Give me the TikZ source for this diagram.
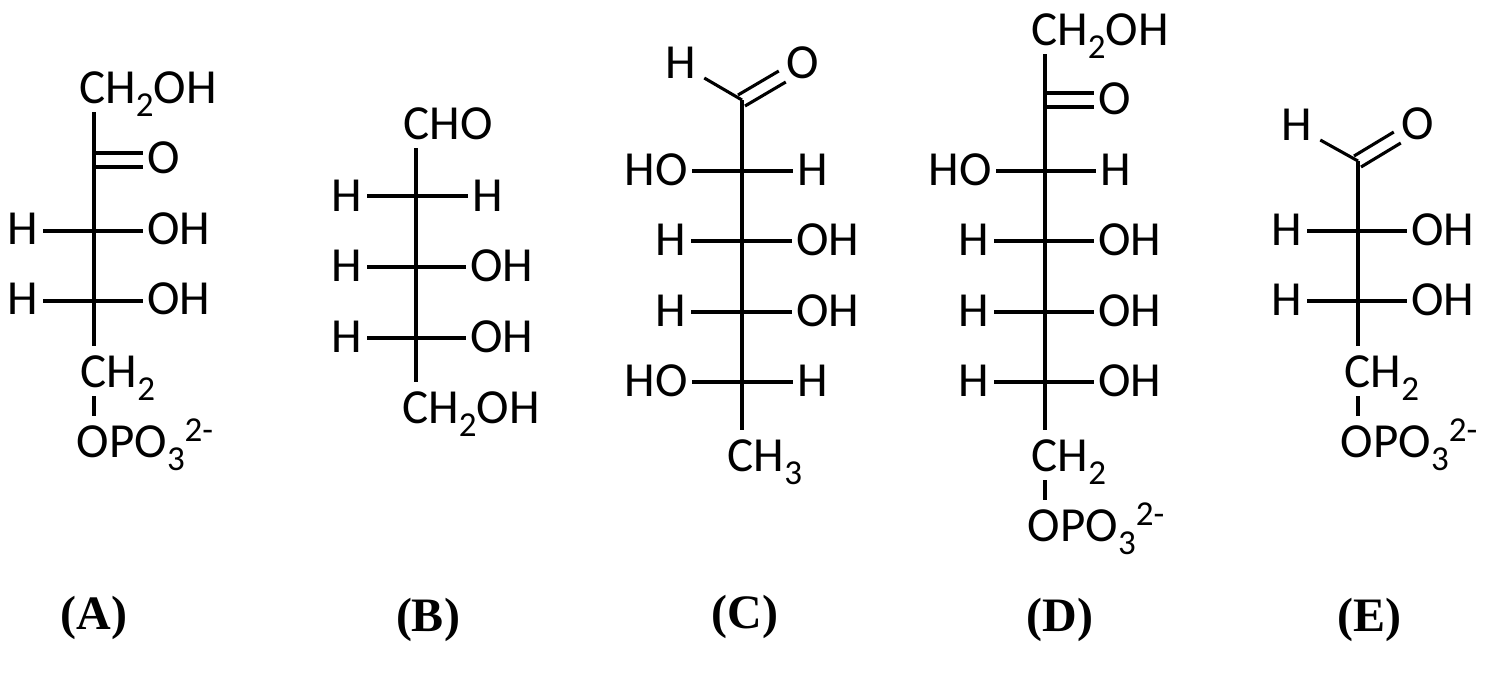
\documentclass[tikz,border=0pt]{standalone}
\usepackage{tikz}
\usepackage{fontspec}
\setmainfont{Carlito}
\newfontfamily\tagfont{Liberation Serif}
\newcommand{\lowidx}[1]{\raisebox{-6.5pt}{\fontsize{17.5}{18}\selectfont #1}}
\newcommand{\highidx}[1]{\raisebox{8pt}{\fontsize{17.5}{18}\selectfont #1}}
\tikzset{
	atom/.style={inner xsep=2.5pt, inner ysep=4.5pt, outer sep=0pt, text height=16pt, text depth=0pt, font=\fontsize{24.5}{26}\selectfont},
	tag/.style={inner sep=0pt, font=\tagfont\bfseries\fontsize{24}{25}\selectfont},
	bond/.style={line width=1.55pt, line cap=butt}
}
\begin{document}
\begin{tikzpicture}[x=0.5pt, y=-0.5pt]
				\useasboundingbox (0, 0) rectangle (1488, 677);
				\node[atom] (Atop)at(148, 87) {CH\lowidx{2}OH};
				\node[atom] (Ao)at(164, 157) {O};
				\node[atom] (Ah1)at(23, 228) {H};
				\node[atom] (Aoh1)at(179, 228) {OH};
				\node[atom] (Ah2)at(23, 298) {H};
				\node[atom] (Aoh2)at(179, 298) {OH};
				\node[atom] (Ach)at(118, 371) {CH\lowidx{2}};
				\node[atom] (Aopo)at(145, 441) {OPO\lowidx{3}\highidx{2-}};
				\coordinate (Ac1)at(94, 160);
				\coordinate (Ac2)at(94, 231);
				\coordinate (Ac3)at(94, 301);
				\draw[bond] (Ac1 |- Atop.south) -- (Ac1 |- Ach.north);
				\draw[bond] ([yshift=3.5pt]Ac1) -- ([yshift=3.5pt]Ac1 -| Ao.west);
				\draw[bond] ([yshift=-3.5pt]Ac1) -- ([yshift=-3.5pt]Ac1 -| Ao.west);
				\draw[bond] (Ah1.east |- Ac2) -- (Aoh1.west |- Ac2);
				\draw[bond] (Ah2.east |- Ac3) -- (Aoh2.west |- Ac3);
				\draw[bond] (Ac1 |- Ach.south) -- (Ac1 |- Aopo.north);
				\node[atom] (Btop)at(448, 123) {CHO};
				\node[atom] (Bh1)at(347, 195) {H};
				\node[atom] (Bh2)at(488, 195) {H};
				\node[atom] (Bh3)at(347, 265) {H};
				\node[atom] (Boh1)at(502, 265) {OH};
				\node[atom] (Bh4)at(347, 336) {H};
				\node[atom] (Boh2)at(502, 336) {OH};
				\node[atom] (Bend)at(471, 407) {CH\lowidx{2}OH};
				\coordinate (Bc1)at(416, 196);
				\coordinate (Bc2)at(416, 267);
				\coordinate (Bc3)at(416, 338);
				\draw[bond] (Bc1 |- Btop.south) -- (Bc1 |- Bend.north);
				\draw[bond] (Bh1.east |- Bc1) -- (Bh2.west |- Bc1);
				\draw[bond] (Bh3.east |- Bc2) -- (Boh1.west |- Bc2);
				\draw[bond] (Bh4.east |- Bc3) -- (Boh2.west |- Bc3);
				\node[atom] (Ch1)at(681, 62) {H};
				\node[atom] (Co)at(803, 62) {O};
				\node[atom] (Coh1)at(656, 169) {HO};
				\node[atom] (Ch2)at(813, 169) {H};
				\node[atom] (Ch3)at(671, 239) {H};
				\node[atom] (Coh2)at(828, 239) {OH};
				\node[atom] (Ch4)at(671, 310) {H};
				\node[atom] (Coh3)at(828, 310) {OH};
				\node[atom] (Coh4)at(656, 380) {HO};
				\node[atom] (Ch5)at(813, 380) {H};
				\node[atom] (Cend)at(765, 455) {CH\lowidx{3}};
				\coordinate (Cc0)at(742, 100);
				\coordinate (Cc1)at(742, 171);
				\coordinate (Cc2)at(742, 241);
				\coordinate (Cc3)at(742, 312);
				\coordinate (Cc4)at(742, 382);
				\draw[bond] (Cc0) -- (Cc0 |- Cend.north);
				\draw[bond] (Cc0) -- ([xshift=1.5pt, yshift=4.5pt]Ch1.south east);
				\draw[bond] ([xshift=-2pt, yshift=2.5pt]Cc0) -- ([xshift=-1.5pt, yshift=8pt]Co.south west);
				\draw[bond] ([xshift=1.5pt, yshift=-3pt]Cc0) -- ([xshift=2pt, yshift=2.5pt]Co.south west);
				\draw[bond] (Coh1.east |- Cc1) -- (Ch2.west |- Cc1);
				\draw[bond] (Ch3.east |- Cc2) -- (Coh2.west |- Cc2);
				\draw[bond] (Ch4.east |- Cc3) -- (Coh3.west |- Cc3);
				\draw[bond] (Coh4.east |- Cc4) -- (Ch5.west |- Cc4);
				\node[atom] (Dtop)at(1100, 29) {CH\lowidx{2}OH};
				\node[atom] (Do)at(1115, 98) {O};
				\node[atom] (Doh1)at(960, 169) {HO};
				\node[atom] (Dh1)at(1116, 169) {H};
				\node[atom] (Dh2)at(974, 239) {H};
				\node[atom] (Doh2)at(1130, 239) {OH};
				\node[atom] (Dh3)at(974, 310) {H};
				\node[atom] (Doh3)at(1130, 310) {OH};
				\node[atom] (Dh4)at(974, 380) {H};
				\node[atom] (Doh4)at(1130, 380) {OH};
				\node[atom] (Dch)at(1069, 455) {CH\lowidx{2}};
				\node[atom] (Dopo)at(1096, 525) {OPO\lowidx{3}\highidx{2-}};
				\coordinate (Dc0)at(1045, 100);
				\coordinate (Dc1)at(1045, 171);
				\coordinate (Dc2)at(1045, 241);
				\coordinate (Dc3)at(1045, 312);
				\coordinate (Dc4)at(1045, 382);
				\draw[bond] (Dc0 |- Dtop.south) -- (Dc0 |- Dch.north);
				\draw[bond] ([yshift=3.5pt]Dc0) -- ([yshift=3.5pt]Dc0 -| Do.west);
				\draw[bond] ([yshift=-3.5pt]Dc0) -- ([yshift=-3.5pt]Dc0 -| Do.west);
				\draw[bond] (Doh1.east |- Dc1) -- (Dh1.west |- Dc1);
				\draw[bond] (Dh2.east |- Dc2) -- (Doh2.west |- Dc2);
				\draw[bond] (Dh3.east |- Dc3) -- (Doh3.west |- Dc3);
				\draw[bond] (Dh4.east |- Dc4) -- (Doh4.west |- Dc4);
				\draw[bond] (Dc0 |- Dch.south) -- (Dc0 |- Dopo.north);
				\node[atom] (Eh1)at(1297, 124) {H};
				\node[atom] (Eo)at(1418, 123) {O};
				\node[atom] (Eh2)at(1287, 229) {H};
				\node[atom] (Eoh1)at(1443, 229) {OH};
				\node[atom] (Eh3)at(1287, 299) {H};
				\node[atom] (Eoh2)at(1443, 299) {OH};
				\node[atom] (Ech)at(1382, 371) {CH\lowidx{2}};
				\node[atom] (Eopo)at(1409, 441) {OPO\lowidx{3}\highidx{2-}};
				\coordinate (Ec0)at(1358, 161);
				\coordinate (Ec1)at(1358, 231);
				\coordinate (Ec2)at(1358, 301);
				\draw[bond] (Ec0) -- (Ec0 |- Ech.north);
				\draw[bond] (Ec0) -- ([xshift=1.5pt, yshift=4.5pt]Eh1.south east);
				\draw[bond] ([xshift=-2pt, yshift=2.5pt]Ec0) -- ([xshift=-1.5pt, yshift=8pt]Eo.south west);
				\draw[bond] ([xshift=1.5pt, yshift=-3pt]Ec0) -- ([xshift=2pt, yshift=2.5pt]Eo.south west);
				\draw[bond] (Eh2.east |- Ec1) -- (Eoh1.west |- Ec1);
				\draw[bond] (Eh3.east |- Ec2) -- (Eoh2.west |- Ec2);
				\draw[bond] (Ec0 |- Ech.south) -- (Ec0 |- Eopo.north);
				\node[tag] (TA)at(94, 618) {(A)};
				\node[tag] (TB)at(428, 620) {(B)};
				\node[tag] (TC)at(745, 617) {(C)};
				\node[tag] (TD)at(1060, 620) {(D)};
				\node[tag] (TE)at(1369, 620) {(E)};
			\end{tikzpicture}
\end{document}
